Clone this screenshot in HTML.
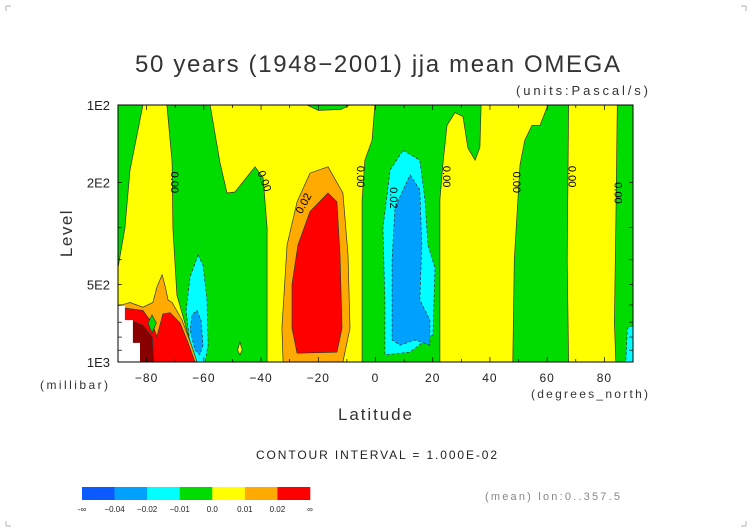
<!DOCTYPE html>
<html><head><meta charset="utf-8"><style>
body{margin:0;background:#fff;}
svg{display:block;font-family:"Liberation Sans",sans-serif;}
</style></head><body>
<svg id="chart" width="752" height="532" viewBox="0 0 752 532">
<g id="marks"></g>
<g id="labels"></g>
</svg>
<script>
// ---- data (lat, pressure mb) ----
const latTicks=[-80,-60,-40,-20,0,20,40,60,80];
const levelTicks=[100,200,500,1000];
const levelTickLabels=["1E2","2E2","5E2","1E3"];
const cbarLabels=["-\u221e","\u22120.04","\u22120.02","\u22120.01","0.0","0.01","0.02","\u221e"];
const cbarColors=["#0a5aff","#00a0ff","#00ffff","#00dc00","#ffff00","#ffaa00","#ff0000"];
const green1=[[-90,100],[-81.3,100],[-83,125],[-85.8,179],[-87.6,301],[-90,430]];
const green2=[[-72.9,100],[-71.1,167],[-70.8,301],[-69.4,548],[-65.5,783],[-62,1000],[-37.9,1000],[-37.9,301],[-39.3,192],[-42.1,174],[-49.1,218],[-51.9,220],[-54.4,167],[-57.8,100]];
const greenTop=[[-23.9,100],[-9,100],[-12,104],[-20,105]];
const green3=[[-0.2,100],[36.9,100],[36.5,146],[34.8,164],[32.3,147],[30.6,111],[27.8,107],[25,120],[23.6,168],[22.5,234],[22.5,1000],[-4.7,1000],[-4.7,234],[-3.7,164],[-1.2,137]];
const green4=[[60.3,100],[67.5,100],[67,400],[67.5,1000],[48,1000],[48.5,400],[50.5,171],[52.2,137],[54.7,120],[57.5,120]];
const green5=[[84.5,100],[90,100],[90,1000],[84,1000],[83.5,700],[84,300]];
const cyanR=[[90,720],[88,740],[87.5,1000],[90,1000]];
const orangeP=[[-16.6,174],[-11.4,220],[-9.6,383],[-8.9,738],[-11.4,1000],[-32.3,1000],[-32.7,738],[-30.9,350],[-27.4,238],[-22.9,184]];
const redP=[[-16.6,220],[-13.5,238],[-12.4,383],[-11.7,738],[-13.5,915],[-27.4,924],[-29.2,738],[-29.2,500],[-27.1,350],[-22.9,260]];
const cyanN=[[9.6,150],[15.5,164],[17.3,234],[18.3,350],[20.8,430],[20.1,783],[12.1,915],[3.3,938],[3.3,574],[2.6,301],[5.1,179]];
const blueN=[[12.1,187],[15.5,214],[16.2,350],[15.5,574],[19,687],[19,860],[13.8,820],[8.6,860],[5.8,820],[5.8,400],[6.8,250]];
const cyanS=[[-62,383],[-60.3,419],[-58.9,574],[-58.5,860],[-59.6,1000],[-62.7,1000],[-64.8,860],[-66.2,630],[-64.8,466]];
const blueS=[[-62.4,630],[-61,687],[-60.3,860],[-61.4,938],[-63.1,898],[-64.8,750],[-64.1,656]];
const orangeSW=[[-90,605],[-85.8,587],[-81.3,612],[-77.8,587],[-76.4,511],[-74.6,458],[-73.6,502],[-72.5,574],[-71.1,587],[-67.6,687],[-64.1,874],[-62.4,1000],[-90,1000]];
const redSW=[[-87.6,617],[-81.3,630],[-78.1,706],[-76.4,798],[-74.3,650],[-71.8,643],[-68.3,706],[-65.5,843],[-63.1,1000],[-90,1000]];
const darkSW=[[-85.8,687],[-81.3,720],[-78,800],[-77.5,1000],[-85.8,1000]];
const greenDiamond=[[-78.1,656],[-76.6,706],[-78.1,772],[-79.5,706]];
const yellowBlob=[[-47.4,836],[-46.6,898],[-47.4,938],[-48.2,898]];
const whiteSW=[[-90,605],[-87.6,605],[-87.6,687],[-84.8,687],[-84.8,843],[-82.3,843],[-82.3,1000],[-90,1000]];
const contourLabels=[["0.00",-71.5,200,90],["0.00",-40,200,70],["0.00",-6.5,190,90],["0.00",23.5,190,90],["0.00",48,200,90],["0.00",67.5,190,90],["0.00",83.5,220,90],["0.02",-24,245,-62],["0.02",5,230,90]];
// ---- axes ----
const X0=118,X1=633,Y0=105,Y1=362;
function xs(lat){return X0+(lat+90)/180*(X1-X0);}
function ys(p){return Y0+Math.log10(p/100)*(Y1-Y0);}
const NS="http://www.w3.org/2000/svg";
const marks=document.getElementById('marks');
const labels=document.getElementById('labels');
function poly(arr,fill,name,stroke,dash){
  const el=document.createElementNS(NS,'polygon');
  el.setAttribute('points',arr.map(d=>xs(d[0]).toFixed(1)+','+ys(d[1]).toFixed(1)).join(' '));
  el.setAttribute('fill',fill);
  el.setAttribute('stroke',stroke||'#333');
  el.setAttribute('stroke-width','0.7');
  if(dash)el.setAttribute('stroke-dasharray','3,2');
  
  
  marks.appendChild(el);
}
function txt(parent,s,x,y,size,anchor,fill,rot){
  const t=document.createElementNS(NS,'text');
  t.setAttribute('x',x);t.setAttribute('y',y);
  t.setAttribute('font-size',size);
  t.setAttribute('text-anchor',anchor||'start');
  t.setAttribute('fill',fill||'#000');
  if(rot)t.setAttribute('transform','rotate('+rot+' '+x+' '+y+')');
  t.textContent=s;
  parent.appendChild(t);
  return t;
}
const bg=document.createElementNS(NS,'rect');
bg.setAttribute('x',X0);bg.setAttribute('y',Y0);bg.setAttribute('width',X1-X0);bg.setAttribute('height',Y1-Y0);
bg.setAttribute('fill','#ffff00');


marks.appendChild(bg);
poly(green1,'#00dc00','contour-green-1');
poly(green2,'#00dc00','contour-green-2');
poly(greenTop,'#00dc00','contour-green-top');
poly(green3,'#00dc00','contour-green-3');
poly(green4,'#00dc00','contour-green-4');
poly(green5,'#00dc00','contour-green-5');
poly(cyanR,'#00ffff','contour-cyan-right','#333',true);
poly(orangeP,'#ffaa00','contour-orange-max');
poly(redP,'#ff0000','contour-red-max');
poly(cyanN,'#00ffff','contour-cyan-min','#333',true);
poly(blueN,'#00a0ff','contour-blue-min','#333',true);
poly(cyanS,'#00ffff','contour-cyan-south','#333',true);
poly(blueS,'#00a0ff','contour-blue-south','#333',true);
poly(orangeSW,'#ffaa00','contour-orange-sw');
poly(redSW,'#ff0000','contour-red-sw');
poly(darkSW,'#8a0000','contour-dense-sw');
poly(greenDiamond,'#00dc00','contour-green-diamond');
poly(yellowBlob,'#ffff00','contour-yellow-blob');
poly(whiteSW,'#ffffff','missing-data','none');
contourLabels.forEach(c=>{
  const t=txt(marks,c[0],xs(c[1]),ys(c[2]),11,'middle','#000',c[3]);
  
  
});
const fr=document.createElementNS(NS,'rect');
fr.setAttribute('x',X0);fr.setAttribute('y',Y0);fr.setAttribute('width',X1-X0);fr.setAttribute('height',Y1-Y0);
fr.setAttribute('fill','none');fr.setAttribute('stroke','#000');fr.setAttribute('stroke-width','1');


marks.appendChild(fr);
for(let l=-90;l<=90;l+=10){
  const len=(l%20===0)?5:3;
  [[Y1,-len],[Y0,len]].forEach(a=>{
    const tk=document.createElementNS(NS,'line');
    tk.setAttribute('x1',xs(l));tk.setAttribute('x2',xs(l));tk.setAttribute('y1',a[0]);tk.setAttribute('y2',a[0]+a[1]);
    tk.setAttribute('stroke','#000');tk.setAttribute('stroke-width','0.7');
    
    
    marks.appendChild(tk);
  });
}
const minorP=[100,200,300,400,500,600,700,800,900,1000];
minorP.forEach(p=>{
  [[X0,4],[X1,-4]].forEach(a=>{
    const tk=document.createElementNS(NS,'line');
    tk.setAttribute('x1',a[0]);tk.setAttribute('x2',a[0]+a[1]);tk.setAttribute('y1',ys(p));tk.setAttribute('y2',ys(p));
    tk.setAttribute('stroke','#000');tk.setAttribute('stroke-width','0.7');
    
    
    marks.appendChild(tk);
  });
});
latTicks.forEach(l=>{
  const t=txt(labels,(l<0?'\u2212':'')+Math.abs(l),xs(l),382,12,'middle','#222');
  t.setAttribute('letter-spacing','1');
  
  
});
levelTicks.forEach((p,i)=>{
  const t=txt(labels,levelTickLabels[i],110,ys(p)+5,13,'end','#222');
  
  
});
const cbX0=82,cbX1=310,cbY=487,cbH=13,cw=(cbX1-cbX0)/cbarColors.length;
cbarColors.forEach((c,i)=>{
  const r=document.createElementNS(NS,'rect');
  r.setAttribute('x',cbX0+i*cw);r.setAttribute('y',cbY);r.setAttribute('width',cw+0.3);r.setAttribute('height',cbH);
  r.setAttribute('fill',c);
  
  
  labels.appendChild(r);
});
cbarLabels.forEach((s,i)=>{
  const t=txt(labels,s,cbX0+i*cw,512,8,'middle','#222');
  
  
});
</script>
<svg style="position:absolute;left:0;top:0" width="752" height="532" font-family="Liberation Sans,sans-serif">
<text x="135" y="72" font-size="24" textLength="485" lengthAdjust="spacing" fill="#333">50 years (1948−2001) jja mean OMEGA</text>
<text x="516" y="95" font-size="13" textLength="132" lengthAdjust="spacing" fill="#333">(units:Pascal/s)</text>
<text x="72" y="233" font-size="17" text-anchor="middle" letter-spacing="1.5" fill="#333" transform="rotate(-90 72 233)">Level</text>
<text x="40" y="389" font-size="12" textLength="68" lengthAdjust="spacing" fill="#333">(millibar)</text>
<text x="338" y="420" font-size="17" textLength="74" lengthAdjust="spacing" fill="#333">Latitude</text>
<text x="531" y="398" font-size="12" textLength="117" lengthAdjust="spacing" fill="#333">(degrees_north)</text>
<text x="256" y="459" font-size="12" textLength="241" lengthAdjust="spacing" fill="#222">CONTOUR INTERVAL = 1.000E-02</text>
<text x="485" y="500" font-size="11" textLength="135" lengthAdjust="spacing" fill="#888">(mean) lon:0..357.5</text>
<path d="M6 11V6H11 M741 6H746V11 M6 521V526H11 M741 526H746V521" stroke="#999" fill="none" stroke-width="0.7"/>
</svg>
</body></html>
